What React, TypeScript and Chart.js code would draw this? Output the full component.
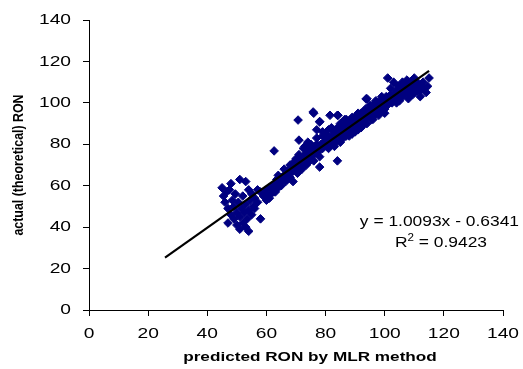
import React, { useEffect, useRef } from "react";
import { Chart, registerables } from "chart.js";

Chart.register(...registerables);

// Predicted RON (MLR) vs actual (theoretical) RON
const predicted = [
  45, 45.5, 46, 46.5, 47, 47.5, 48, 48.5, 49, 49, 49.5, 50, 50, 50.5, 51, 51, 51, 51.5, 52, 52,
  52.5, 53, 53, 53.5, 54, 54, 54.5, 55, 55, 55.5, 56, 57, 58, 58, 59, 60, 60, 61, 61.5, 62,
  62.5, 63, 63.5, 64, 64.5, 65, 65, 66, 66.5, 67, 67, 67.5, 68, 68.5, 69, 69, 70, 70, 70.5, 71,
  71, 71.5, 72, 72, 72.5, 73, 73, 73.5, 74, 74, 74.5, 75, 75, 75.5, 76, 76, 76.5, 77, 77, 77.5,
  78, 78, 78, 78.5, 79, 79, 79.5, 80, 80, 80.5, 81, 81, 81.5, 82, 82, 82.5, 83, 83, 83.5, 84,
  84, 84, 84.5, 85, 85, 85.5, 86, 86, 86.5, 87, 87, 87.5, 88, 88, 88.5, 89, 89, 89.5, 90, 90,
  90.5, 91, 91, 91.5, 92, 92, 92.5, 93, 93, 93.5, 94, 94, 94.5, 95, 95, 95.5, 96, 96, 96.5, 97,
  97, 97.5, 98, 98, 98.5, 99, 99, 99.5, 100, 100, 100.5, 101, 101, 101.5, 102, 102, 102.5, 103, 103, 103.5,
  104, 104, 104.5, 105, 105, 105.5, 106, 106, 106.5, 107, 107, 107.5, 108, 108, 108.5, 109, 109, 109.5, 110, 110,
  110.5, 111, 111, 112, 112, 113, 113, 114, 115, 114.5, 70.7, 75.8, 62.6, 84.2, 113, 111, 93.7, 78, 71, 77,
  60, 61, 62, 63, 64, 65, 66, 67, 68, 68, 69, 70, 71, 72, 73, 74, 75, 76, 77, 78,
  79, 80, 81, 82, 83, 84, 85, 86, 87, 88, 89, 90, 91, 92, 93, 94, 95, 96, 97, 98,
  99, 100, 102, 104, 106, 108, 110, 112, 53, 56, 48, 47, 54, 57,
];
const actual = [
  59, 55, 52, 57, 49, 58, 46, 53, 44, 50, 56, 41, 47, 52, 39, 45, 63, 49, 42, 55,
  47, 40, 51, 44, 48, 58, 53, 46, 56, 50, 54, 52, 44, 57, 55, 58, 53, 59, 56, 60,
  57, 61, 63, 59, 62, 64, 60, 65, 62, 67, 66, 64, 66, 69, 67, 62, 70, 68, 66, 72,
  75, 69, 73, 70, 78, 72, 75, 70, 76, 81, 73, 74, 78, 77, 75, 95, 79, 83, 76, 78,
  77, 69, 91, 80, 84, 78, 81, 80, 83, 79, 82, 87, 94, 84, 80, 83, 82, 86, 81, 85,
  72, 94, 84, 86, 81, 88, 85, 89, 92, 87, 84, 90, 86, 89, 92, 88, 85, 90, 89, 92,
  94, 90, 87, 93, 91, 95, 89, 94, 91, 97, 93, 102, 95, 94, 97, 92, 96, 99, 94, 98,
  95, 100, 97, 94, 101, 99, 96, 102, 100, 97, 103, 99, 112, 102, 101, 104, 100, 103, 110, 105,
  102, 106, 108, 104, 101, 107, 106, 103, 109, 105, 108, 111, 107, 104, 110, 109, 106, 104, 108, 105,
  110, 106, 110, 108, 103, 107, 110, 105, 112, 108, 91.7, 95.6, 76.8, 94, 107.7, 105.7, 101.9, 90.8, 82, 87,
  56, 54, 58, 57, 65, 62, 68, 63, 70, 64, 71, 73, 67, 68, 79, 71, 80, 72, 80, 74,
  86, 85, 78, 88, 79, 88, 90, 83, 92, 84, 93, 86, 95, 88, 96, 90, 99, 92, 101, 95,
  103, 95, 107, 100, 110, 102, 112, 106, 62, 49, 61, 42, 38, 58,
];

const xTickValues = [0, 20, 40, 60, 80, 100, 120, 140];
const yTickValues = [0, 20, 40, 60, 80, 100, 120, 140];

const slope = 1.0093;
const intercept = -0.6341;
const trendX = [25.7, 115];

const xTitle = "predicted RON by MLR method";
const yTitle = "actual (theoretical) RON";
const eqText = "y = 1.0093x - 0.6341";
const r2Value = "0.9423";

const FONT = '"Liberation Sans", Arial, sans-serif';

function drawText(
  ctx: CanvasRenderingContext2D,
  text: string,
  x: number,
  y: number,
  align: CanvasTextAlign,
  font: string,
  sx: number
) {
  ctx.save();
  ctx.translate(x, y);
  ctx.scale(sx, 1);
  ctx.font = font;
  ctx.textAlign = align;
  ctx.textBaseline = "middle";
  ctx.fillStyle = "#000";
  ctx.fillText(text, 0, 0);
  ctx.restore();
}

const textPlugin = {
  id: "customTexts",
  afterDraw(chart: any) {
    const ctx: CanvasRenderingContext2D = chart.ctx;
    const xs = chart.scales.x;
    const ys = chart.scales.y;
    const tickFont = `15px ${FONT}`;
    const sTick = 1.28;
    xTickValues.forEach((v) => {
      drawText(ctx, String(v), xs.getPixelForValue(v), xs.top + 24, "center", tickFont, sTick);
    });
    yTickValues.forEach((v) => {
      drawText(ctx, String(v), ys.right - 18, ys.getPixelForValue(v), "right", tickFont, sTick);
    });
    // x title
    drawText(ctx, xTitle, 310, 357, "center", `bold 13px ${FONT}`, 1.32);
    // y title rotated
    ctx.save();
    ctx.translate(19, 165);
    ctx.scale(1.2, 1);
    ctx.rotate(-Math.PI / 2);
    ctx.font = `bold 12.4px ${FONT}`;
    ctx.textAlign = "center";
    ctx.textBaseline = "middle";
    ctx.fillStyle = "#000";
    ctx.fillText(yTitle, 0, 0);
    ctx.restore();
    // equation
    const sEq = 1.16;
    drawText(ctx, eqText, 519, 222, "right", `15px ${FONT}`, sEq);
    // R^2
    ctx.save();
    ctx.font = `15px ${FONT}`;
    const wR = ctx.measureText("R").width;
    const rest = " = " + r2Value;
    const wRest = ctx.measureText(rest).width;
    ctx.font = `10px ${FONT}`;
    const w2 = ctx.measureText("2").width;
    ctx.restore();
    const total = (wR + w2 + wRest) * sEq;
    let start = 441 - total / 2;
    drawText(ctx, "R", start, 243, "left", `15px ${FONT}`, sEq);
    start += wR * sEq;
    drawText(ctx, "2", start, 238, "left", `10px ${FONT}`, sEq);
    start += w2 * sEq;
    drawText(ctx, rest, start, 243, "left", `15px ${FONT}`, sEq);
  },
};

export default function App() {
  const ref = useRef<HTMLCanvasElement | null>(null);
  useEffect(() => {
    if (!ref.current) return;
    const points = predicted.map((p, i) => ({ x: p, y: actual[i] }));
    const trend = trendX.map((x) => ({ x, y: slope * x + intercept }));
    const axisCommon = {
      type: "linear" as const,
      min: 0,
      max: 140,
      border: { display: true, color: "#000", width: 1 },
      grid: {
        display: true,
        drawOnChartArea: false,
        drawTicks: true,
        tickLength: 6,
        color: "#000",
        lineWidth: 1,
      },
      ticks: { display: false, stepSize: 20 },
      title: { display: false },
    };
    const chart = new Chart(ref.current, {
      type: "scatter",
      data: {
        datasets: [
          {
            label: "data",
            data: points,
            pointStyle: "rectRot",
            pointRadius: 4.3,
            pointBorderWidth: 1,
            backgroundColor: "#000080",
            borderColor: "#000080",
            order: 2,
          },
          {
            label: "trend",
            type: "line",
            data: trend,
            borderColor: "#000",
            borderWidth: 2.2,
            pointRadius: 0,
            fill: false,
            order: 1,
          } as any,
        ],
      },
      options: {
        animation: false,
        responsive: true,
        maintainAspectRatio: false,
        layout: { padding: { top: 20, right: 20, left: 0, bottom: 0 } },
        plugins: {
          legend: { display: false },
          tooltip: { enabled: false },
        },
        scales: {
          x: {
            ...axisCommon,
            position: "bottom",
            afterBuildTicks: (s: any) => {
              s.ticks = xTickValues.map((v) => ({ value: v }));
            },
            afterFit: (s: any) => {
              s.height = 59;
            },
          },
          y: {
            ...axisCommon,
            position: "left",
            afterBuildTicks: (s: any) => {
              s.ticks = yTickValues.map((v) => ({ value: v }));
            },
            afterFit: (s: any) => {
              s.width = 89;
            },
          },
        },
      } as any,
      plugins: [textPlugin],
    });
    return () => chart.destroy();
  }, []);
  return (
    <div
      style={{
        position: "fixed",
        left: 0,
        top: 0,
        width: 523,
        height: 369,
        background: "#fff",
      }}
    >
      <canvas ref={ref} />
    </div>
  );
}
